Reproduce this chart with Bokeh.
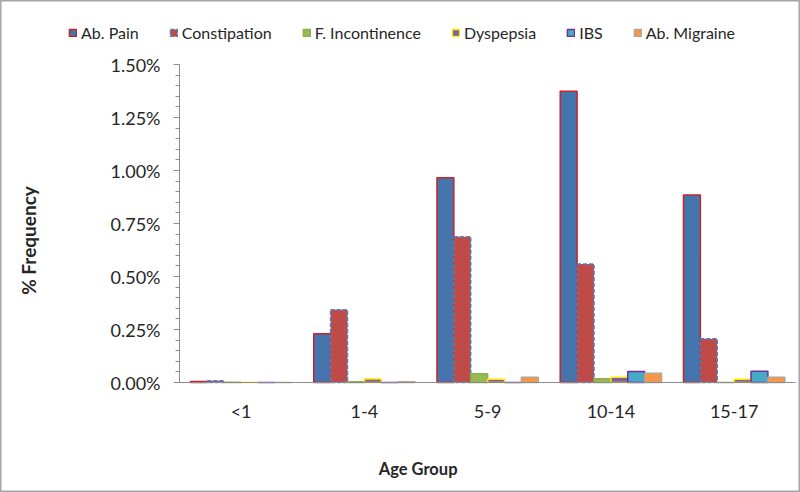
from bokeh.plotting import figure
from bokeh.models import (Range1d, SingleIntervalTicker, FixedTicker, PrintfTickFormatter,
                          Legend, LegendItem, Label, LinearAxis, ColumnDataSource)
from bokeh.transform import dodge
from bokeh.embed import file_html
from bokeh.resources import INLINE
import math

categories = ["<1", "1-4", "5-9", "10-14", "15-17"]
series_names = ["Ab. Pain", "Constipation", "F. Incontinence", "Dyspepsia", "IBS", "Ab. Migraine"]
ab_pain = [0.005, 0.23, 0.966, 1.374, 0.885]
constipation = [0.008, 0.343, 0.688, 0.559, 0.206]
f_incontinence = [0.001, 0.003, 0.041, 0.018, 0.0]
dyspepsia = [0.0, 0.017, 0.015, 0.025, 0.015]
ibs = [0.0, 0.0, 0.0, 0.052, 0.053]
ab_migraine = [0.0, 0.003, 0.025, 0.044, 0.025]

series_values = [ab_pain, constipation, f_incontinence, dyspepsia, ibs, ab_migraine]
fills = ["#4674AC", "#BE4B48", "#98B954", "#7D60A0", "#46AAC5", "#F79646"]
lines = ["#C8232B", "#4F81BD", "#8DB04C", "#FFE600", "#7030A0", "#B4A69A"]
dashes = ["solid", "4 2", "solid", "solid", "solid", "solid"]

FONT = "Lato"
TXT = "#262626"

W, H = 800, 492
# frame covers the whole canvas; axes are pinned inside it with fixed_location
UX = 123.25           # pixels per category
AX_X = 179.0          # canvas x of the value axis
UY = 212.0            # pixels per 1 %
Y0 = 382.0            # canvas y (from top) of 0 %
xs = -0.5 - AX_X / UX
xe = xs + W / UX
ye = Y0 / UY
ys = -(H - Y0) / UY

p = figure(width=W, height=H, x_range=Range1d(xs, xe), y_range=Range1d(ys, ye),
           output_backend="svg", toolbar_location=None,
           x_axis_location=None, y_axis_location=None,
           min_border_left=0, min_border_right=0, min_border_top=0, min_border_bottom=0)
p.outline_line_color = "#A6A6A6"
p.outline_line_width = 2
p.xgrid.grid_line_color = None
p.ygrid.grid_line_color = None

idx = list(range(len(categories)))
data = {"xi": idx}
keys = []
for i, vals in enumerate(series_values):
    k = "s%d" % i
    keys.append(k)
    data[k] = vals
source = ColumnDataSource(data)

bw = 0.137
items = []
for i, k in enumerate(keys):
    off = (i - 2.5) * bw
    r = p.vbar(x=dodge("xi", off), top=k, width=bw, source=source,
               fill_color=fills[i], line_color=lines[i], line_width=1.5, line_dash=dashes[i])
    items.append(LegendItem(label=series_names[i], renderers=[r]))

legend = Legend(items=items, orientation="horizontal", location=(68, H - 42),
                glyph_width=9, glyph_height=9, label_standoff=4, spacing=30,
                padding=0, margin=0, border_line_color=None, background_fill_alpha=0,
                label_text_font=FONT, label_text_font_size="16px", label_text_color=TXT,
                label_height=16)
p.add_layout(legend, "center")

# value axis
ya = LinearAxis(fixed_location=-0.5, bounds=(0, 1.5))
ya.ticker = SingleIntervalTicker(interval=0.25, num_minor_ticks=5)
ya.formatter = PrintfTickFormatter(format="%.2f%%")
ya.axis_line_color = "#8C8C8C"
ya.major_tick_line_color = "#8C8C8C"
ya.minor_tick_line_color = "#8C8C8C"
ya.major_tick_out = 6
ya.major_tick_in = 0
ya.minor_tick_out = 4
ya.minor_tick_in = 0
ya.major_label_standoff = 13
ya.major_label_text_font = FONT
ya.major_label_text_font_size = "18px"
ya.major_label_text_color = TXT
p.add_layout(ya, "left")

# category axis
xa = LinearAxis(fixed_location=0, bounds=(-0.5, len(categories) - 0.5))
xa.ticker = FixedTicker(ticks=idx)
xa.major_label_overrides = {i: c for i, c in zip(idx, categories)}
xa.axis_line_color = "#8C8C8C"
xa.major_tick_line_color = None
xa.minor_tick_line_color = None
xa.major_label_standoff = 11
xa.major_label_text_font = FONT
xa.major_label_text_font_size = "18px"
xa.major_label_text_color = TXT
p.add_layout(xa, "below")

# axis titles
p.add_layout(Label(x=28, y=H - 240, x_units="screen", y_units="screen", text="% Frequency",
                   angle=math.pi / 2, text_align="center", text_baseline="middle",
                   text_font=FONT, text_font_style="bold", text_font_size="19px",
                   text_color=TXT))
p.add_layout(Label(x=457, y=H - 468, x_units="screen", y_units="screen", text="Age Group",
                   text_align="right", text_baseline="middle",
                   text_font=FONT, text_font_style="bold", text_font_size="16.5px",
                   text_color=TXT))

open("out.html", "w").write(file_html(p, INLINE))
